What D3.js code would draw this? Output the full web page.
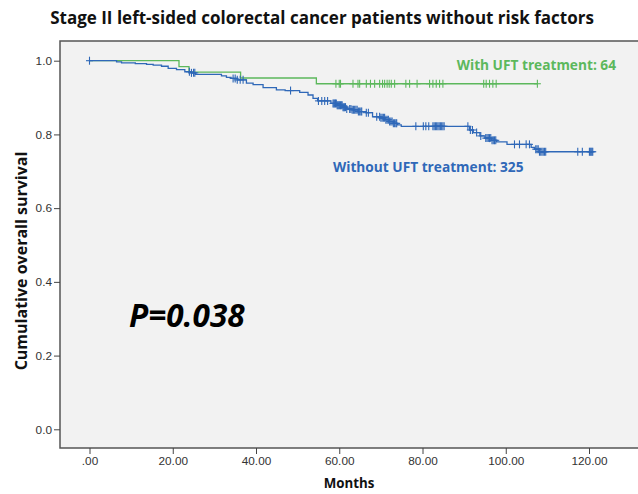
<!DOCTYPE html>
<html>
<head>
  <title>Stage II left-sided colorectal cancer - KM curves</title>
  <script src="https://d3js.org/d3.v7.min.js"></script>
  <style>
    body { margin: 0; background: #fff; }
    svg { display: block; font-family: "Open Sans", "DejaVu Sans", sans-serif; }
    .tick text { font-size: 11.8px; fill: #333; }
    .tick line, .domain { stroke: #444; }
    .km-line { fill: none; stroke-width: 1.3; }
    .censor { stroke-width: 1.1; }
  </style>
</head>
<body>
  <div class="chart"></div>

  <script>
    // tick labels
    const xTicks = [0, 20, 40, 60, 80, 100, 120];
    const yTicks = [0, 0.2, 0.4, 0.6, 0.8, 1.0];

    // With UFT: [months, survival] at each event
    const uftSteps = [
      [0, 1.0], [21.5, 0.984], [23.9, 0.969], [36.3, 0.953], [54.5, 0.9375]
    ];
    const uftEnd = 107.6;
    const uftCensored = [
      59.2, 60.0, 60.3, 63.3, 64.5, 64.9, 66.5, 67.5, 68.5, 69.7, 70.4, 70.9,
      71.5, 72.0, 72.5, 73.3, 76.0, 76.9, 78.7, 81.7, 82.5, 83.3, 84.1, 84.9,
      94.7, 95.3, 96.1, 96.9, 97.7, 107.6
    ];

    // Without UFT
    const noUftSteps = [
      [0, 1.0], [6.5, 0.997], [7.7, 0.994], [11.0, 0.992], [13.7, 0.990],
      [15.3, 0.988], [17.3, 0.985], [18.9, 0.979], [20.9, 0.976], [22.9, 0.970],
      [24.5, 0.967], [25.5, 0.963], [31.7, 0.959], [32.9, 0.955], [34.0, 0.952],
      [35.5, 0.948], [37.7, 0.939], [39.3, 0.935], [41.7, 0.927], [44.9, 0.921],
      [47.0, 0.919], [50.5, 0.914], [52.5, 0.907], [53.7, 0.898], [54.8, 0.891],
      [58.0, 0.884], [59.5, 0.879], [60.8, 0.874], [61.8, 0.869], [63.0, 0.867],
      [64.5, 0.862], [66.5, 0.859], [68.0, 0.848], [70.0, 0.845], [71.0, 0.840],
      [72.0, 0.835], [73.0, 0.830], [74.0, 0.826], [74.9, 0.822], [91.3, 0.812],
      [92.2, 0.805], [93.8, 0.796], [95.0, 0.790], [96.5, 0.784], [97.8, 0.780],
      [100.3, 0.773], [106.1, 0.765], [106.9, 0.760], [108.0, 0.753]
    ];
    const noUftEnd = 120.9;
    const noUftCensored = [
      0, 24.0, 24.5, 25.0, 25.3, 34.5, 35.0, 35.5, 36.2, 36.9, 48.3,
      55.0, 55.8, 56.5, 57.2,
      58.5, 58.7, 58.9, 59.1, 59.3, 59.5, 59.7, 59.9, 60.1, 60.3, 60.5, 60.7,
      60.9, 61.1, 61.3, 61.5, 61.8,
      62.5, 62.8, 63.1, 63.4, 63.7, 64.0, 64.3, 64.6, 64.9, 65.2, 65.4,
      66.5, 67.0, 69.0,
      69.7, 70.0, 70.3, 70.6, 70.9, 71.2, 71.5, 71.8, 72.1, 72.4, 72.7, 73.0,
      73.3, 73.6, 73.8,
      78.4, 80.2, 80.8, 81.5,
      82.5, 82.8, 83.1, 83.4, 83.7, 84.0, 84.3, 84.6, 84.9, 85.2,
      90.9, 91.5, 92.0, 93.0, 94.0,
      95.2, 95.5, 95.8, 96.1, 96.4, 96.7, 97.0, 97.3, 97.6,
      102.1, 103.3, 104.9, 105.7,
      107.2, 107.5, 107.8, 108.1, 108.4, 108.7, 109.0, 109.3, 109.6,
      117.3, 118.4, 120.1, 120.3, 120.5, 120.7, 120.9
    ];

    const width = 638, height = 494;
    const frame = { left: 60, top: 41, right: 640, bottom: 448 };

    const svg = d3.select(".chart")
      .append("svg")
      .attr("width", width)
      .attr("height", height);

    const x = d3.scaleLinear().domain([0, 120]).range([89.5, 589]);
    const y = d3.scaleLinear().domain([0, 1]).range([429.3, 60.7]);

    // plot background
    svg.append("rect")
      .attr("x", frame.left)
      .attr("y", frame.top)
      .attr("width", frame.right - frame.left)
      .attr("height", frame.bottom - frame.top)
      .attr("fill", "#f2f2f2")
      .attr("stroke", "#555")
      .attr("stroke-width", 1.5);

    // axes
    svg.append("g")
      .attr("transform", `translate(0,${frame.bottom})`)
      .call(d3.axisBottom(x).tickValues(xTicks).tickSize(6).tickPadding(3)
        .tickFormat(d => d === 0 ? ".00" : d3.format(".2f")(d)))
      .call(g => g.select(".domain").remove());

    svg.append("g")
      .attr("transform", `translate(${frame.left},0)`)
      .call(d3.axisLeft(y).tickValues(yTicks).tickSize(6).tickPadding(2)
        .tickFormat(d3.format(".1f")))
      .call(g => g.select(".domain").remove());

    // survival curves
    function drawGroup(steps, end, censored, color) {
      const pts = steps.concat([[end, steps[steps.length - 1][1]]]);
      const line = d3.line()
        .x(d => x(d[0]))
        .y(d => y(d[1]))
        .curve(d3.curveStepAfter);

      svg.append("path")
        .datum(pts)
        .attr("class", "km-line")
        .attr("stroke", color)
        .attr("d", line);

      const bis = d3.bisector(d => d[0]).right;
      const survAt = t => steps[Math.max(0, bis(steps, t) - 1)][1];

      const marks = svg.append("g").attr("stroke", color).attr("class", "censor");
      censored.forEach(t => {
        const cx = x(t), cy = y(survAt(t));
        marks.append("line").attr("x1", cx).attr("x2", cx).attr("y1", cy - 4).attr("y2", cy + 4);
        marks.append("line").attr("x1", cx - 3.5).attr("x2", cx + 3.5).attr("y1", cy).attr("y2", cy);
      });
    }

    drawGroup(uftSteps, uftEnd, uftCensored, "#5cb85c");
    drawGroup(noUftSteps, noUftEnd, noUftCensored, "#2f68b8");

    // labels
    svg.append("text")
      .attr("x", 322).attr("y", 24)
      .attr("text-anchor", "middle")
      .attr("font-weight", "bold")
      .attr("font-size", "17px")
      .attr("fill", "#111")
      .text("Stage II left-sided colorectal cancer patients without risk factors");

    svg.append("text")
      .attr("x", 616).attr("y", 70)
      .attr("text-anchor", "end")
      .attr("font-weight", "bold")
      .attr("font-size", "13.7px")
      .attr("fill", "#5cb85c")
      .text("With UFT treatment: 64");

    svg.append("text")
      .attr("x", 333).attr("y", 172)
      .attr("font-weight", "bold")
      .attr("font-size", "13.7px")
      .attr("fill", "#2f68b8")
      .text("Without UFT treatment: 325");

    svg.append("text")
      .attr("x", 129).attr("y", 327)
      .attr("font-weight", "bold")
      .attr("font-style", "italic")
      .attr("font-size", "31.5px")
      .attr("fill", "#000")
      .text("P=0.038");

    svg.append("text")
      .attr("x", 349).attr("y", 488)
      .attr("text-anchor", "middle")
      .attr("font-weight", "bold")
      .attr("font-size", "13.3px")
      .attr("fill", "#111")
      .text("Months");

    svg.append("text")
      .attr("transform", "translate(27,261) rotate(-90)")
      .attr("text-anchor", "middle")
      .attr("font-weight", "bold")
      .attr("font-size", "16px")
      .attr("fill", "#111")
      .text("Cumulative overall survival");
  </script>
</body>
</html>
